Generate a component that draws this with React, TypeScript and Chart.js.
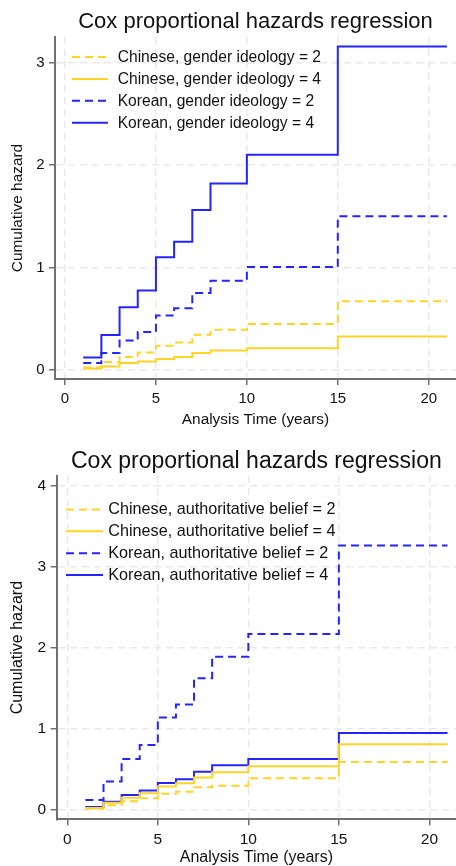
import React, { useEffect, useRef } from "react";
import { Chart, registerables } from "chart.js";

Chart.register(...registerables);

// ---------- data ----------
const TIMES = [1, 2, 3, 4, 5, 6, 7, 8, 10, 15, 21];

const TITLE = "Cox proportional hazards regression";
const X_TITLE = "Analysis Time (years)";
const Y_TITLE = "Cumulative hazard";

const LABELS_GENDER = [
  "Chinese, gender ideology = 2",
  "Chinese, gender ideology = 4",
  "Korean, gender ideology = 2",
  "Korean, gender ideology = 4",
];
const CN_GENDER_2 = [0.022, 0.075, 0.124, 0.169, 0.234, 0.267, 0.342, 0.39, 0.446, 0.67, 0.67];
const CN_GENDER_4 = [0.012, 0.032, 0.065, 0.081, 0.104, 0.124, 0.163, 0.188, 0.21, 0.325, 0.325];
const KR_GENDER_2 = [0.065, 0.163, 0.286, 0.368, 0.53, 0.6, 0.75, 0.87, 1.005, 1.5, 1.5];
const KR_GENDER_4 = [0.12, 0.34, 0.61, 0.775, 1.1, 1.25, 1.56, 1.82, 2.1, 3.16, 3.16];

const LABELS_AUTH = [
  "Chinese, authoritative belief = 2",
  "Chinese, authoritative belief = 4",
  "Korean, authoritative belief = 2",
  "Korean, authoritative belief = 4",
];
const CN_AUTH_2 = [0.016, 0.058, 0.107, 0.145, 0.2, 0.225, 0.28, 0.3, 0.39, 0.59, 0.59];
const CN_AUTH_4 = [0.025, 0.09, 0.15, 0.205, 0.29, 0.33, 0.4, 0.465, 0.54, 0.81, 0.81];
const KR_AUTH_2 = [0.123, 0.35, 0.63, 0.8, 1.14, 1.3, 1.625, 1.89, 2.17, 3.26, 3.26];
const KR_AUTH_4 = [0.037, 0.1, 0.185, 0.24, 0.333, 0.38, 0.47, 0.55, 0.63, 0.95, 0.95];

const X_STEP = 5;
const Y_STEP = 1;

// ---------- styles ----------
const FONT = "Arial, 'Liberation Sans', Helvetica, sans-serif";
const BLUE = "rgb(36,36,255)";
const GOLD = "rgb(255,212,38)";
const GRID = "#e9e9e9";
const AXIS = "#707070";
const TEXT = "#111";
const DASH = [8, 5];

const plotTitle = {
  id: "plotTitle",
  afterDraw(chart: any, _args: any, opts: any) {
    const ctx = chart.ctx;
    const area = chart.chartArea;
    ctx.save();
    ctx.fillStyle = TEXT;
    ctx.font = `${opts.size}px ${FONT}`;
    ctx.textAlign = "center";
    ctx.textBaseline = "middle";
    ctx.fillText(opts.text, (area.left + area.right) / 2, opts.y);
    ctx.restore();
  },
};

const insideLegend = {
  id: "insideLegend",
  afterDatasetsDraw(chart: any, _args: any, opts: any) {
    const ctx = chart.ctx;
    ctx.save();
    chart.data.datasets.forEach((ds: any, i: number) => {
      const y = opts.y0 + i * opts.dy;
      ctx.beginPath();
      ctx.setLineDash(ds.borderDash || []);
      ctx.strokeStyle = ds.borderColor;
      ctx.lineWidth = ds.borderWidth;
      ctx.moveTo(opts.x1, y);
      ctx.lineTo(opts.x2, y);
      ctx.stroke();
      ctx.setLineDash([]);
      ctx.fillStyle = TEXT;
      ctx.font = `${opts.size}px ${FONT}`;
      ctx.textAlign = "left";
      ctx.textBaseline = "middle";
      ctx.fillText(ds.label, opts.tx, y + 0.5);
    });
    ctx.restore();
  },
};

type Spec = {
  width: number;
  height: number;
  labels: string[];
  series: number[][];
  xMin: number;
  xMax: number;
  yMin: number;
  yMax: number;
  yAxisWidth: number;
  xAxisHeight: number;
  topPad: number;
  titleSize: number;
  titleY: number;
  tickSize: number;
  axisTitleSize: number;
  xTitlePad: number;
  xTitleLineHeight: number;
  yTitlePad: number;
  legend: { x1: number; x2: number; tx: number; y0: number; dy: number; size: number };
};

function buildConfig(s: Spec): any {
  const colors = [GOLD, GOLD, BLUE, BLUE];
  const dashes = [DASH, [], DASH, []];
  const datasets = s.series.map((vals, i) => ({
    label: s.labels[i],
    data: TIMES.map((t, j) => ({ x: t, y: vals[j] })),
    borderColor: colors[i],
    backgroundColor: colors[i],
    borderDash: dashes[i],
    borderWidth: 2,
    pointRadius: 0,
    stepped: "before",
    fill: false,
  }));
  const gridCommon = {
    color: GRID,
    lineWidth: 1.5,
    tickColor: AXIS,
    tickLength: 6,
    tickWidth: 1.5,
    tickBorderDash: [],
  };
  return {
    type: "line",
    data: { datasets },
    options: {
      responsive: false,
      animation: false,
      events: [],
      layout: { padding: { top: s.topPad, left: 0, right: 0, bottom: 0 } },
      plugins: {
        legend: { display: false },
        tooltip: { enabled: false },
        title: { display: false },
        plotTitle: { text: TITLE, size: s.titleSize, y: s.titleY },
        insideLegend: s.legend,
      },
      scales: {
        x: {
          type: "linear",
          min: s.xMin,
          max: s.xMax,
          ticks: {
            stepSize: X_STEP,
            includeBounds: false,
            color: TEXT,
            padding: 5,
            maxRotation: 0,
            font: { family: FONT, size: s.tickSize },
          },
          grid: gridCommon,
          border: { display: true, color: AXIS, width: 2, dash: [7, 5] },
          title: {
            display: true,
            text: X_TITLE,
            color: TEXT,
            font: { family: FONT, size: s.axisTitleSize, lineHeight: s.xTitleLineHeight },
            padding: { top: 0, bottom: s.xTitlePad },
          },
          afterFit: (scale: any) => {
            scale.height = s.xAxisHeight;
          },
        },
        y: {
          type: "linear",
          min: s.yMin,
          max: s.yMax,
          ticks: {
            stepSize: Y_STEP,
            includeBounds: false,
            color: TEXT,
            padding: 4.5,
            font: { family: FONT, size: s.tickSize },
          },
          grid: gridCommon,
          border: { display: true, color: AXIS, width: 2, dash: [7, 5] },
          title: {
            display: true,
            text: Y_TITLE,
            color: TEXT,
            font: { family: FONT, size: s.axisTitleSize, lineHeight: 1.2 },
            padding: { top: s.yTitlePad, bottom: 0 },
          },
          afterFit: (scale: any) => {
            scale.width = s.yAxisWidth;
          },
        },
      },
    },
    plugins: [plotTitle, insideLegend],
  };
}

const SPEC_GENDER: Spec = {
  width: 456,
  height: 440,
  labels: LABELS_GENDER,
  series: [CN_GENDER_2, CN_GENDER_4, KR_GENDER_2, KR_GENDER_4],
  xMin: -0.55,
  xMax: 21.5,
  yMin: -0.091,
  yMax: 3.252,
  yAxisWidth: 55,
  xAxisHeight: 61,
  topPad: 37,
  titleSize: 22,
  titleY: 22,
  tickSize: 15,
  axisTitleSize: 15.4,
  xTitlePad: 11.5,
  xTitleLineHeight: 1.2,
  yTitlePad: 8.8,
  legend: { x1: 72, x2: 108, tx: 117.7, y0: 57, dy: 21.9, size: 15.6 },
};

const SPEC_AUTH: Spec = {
  width: 456,
  height: 426,
  labels: LABELS_AUTH,
  series: [CN_AUTH_2, CN_AUTH_4, KR_AUTH_2, KR_AUTH_4],
  xMin: -0.585,
  xMax: 21.47,
  yMin: -0.115,
  yMax: 4.118,
  yAxisWidth: 56.7,
  xAxisHeight: 46.7,
  topPad: 36,
  titleSize: 23,
  titleY: 22,
  tickSize: 15.5,
  axisTitleSize: 16,
  xTitlePad: 0,
  xTitleLineHeight: 1.0,
  yTitlePad: 8.4,
  legend: { x1: 66, x2: 103, tx: 108.3, y0: 69.4, dy: 21.9, size: 16.2 },
};

function HazardChart({ spec, top }: { spec: Spec; top: number }) {
  const ref = useRef<HTMLCanvasElement | null>(null);
  useEffect(() => {
    if (!ref.current) return;
    const chart = new Chart(ref.current, buildConfig(spec));
    return () => chart.destroy();
  }, [spec]);
  return (
    <canvas
      ref={ref}
      width={spec.width}
      height={spec.height}
      style={{
        position: "absolute",
        left: 0,
        top,
        width: spec.width,
        height: spec.height,
        display: "block",
      }}
    />
  );
}

export default function App() {
  return (
    <div
      style={{
        position: "absolute",
        left: 0,
        top: 0,
        width: 456,
        height: 866,
        background: "#fff",
        overflow: "hidden",
      }}
    >
      <HazardChart spec={SPEC_GENDER} top={0} />
      <HazardChart spec={SPEC_AUTH} top={440} />
    </div>
  );
}
